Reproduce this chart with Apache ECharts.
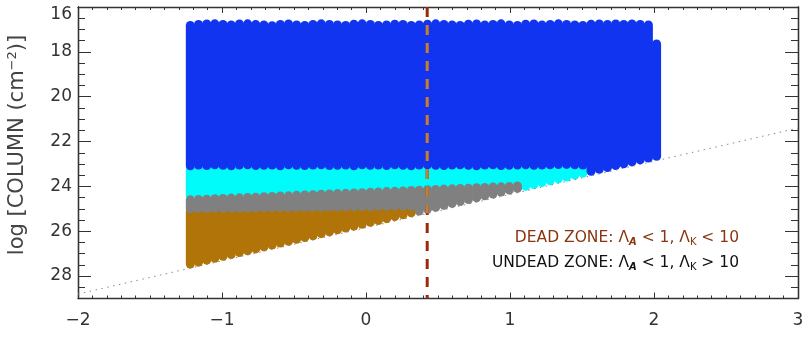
<!DOCTYPE html>
<html><head><meta charset="utf-8">
<script src="https://cdn.jsdelivr.net/npm/echarts@6/dist/echarts.min.js"></script>
<style>html,body{margin:0;padding:0;background:#fff}#c{width:806px;height:337px}</style>
</head><body><div id="c"></div>
<script>
// ---- data ----
// x positions (log radius) of the model columns
const colX = [-1.220,-1.163,-1.106,-1.050,-0.993,-0.936,-0.879,-0.822,-0.766,-0.709,
  -0.652,-0.595,-0.538,-0.482,-0.425,-0.368,-0.311,-0.254,-0.198,-0.141,
  -0.084,-0.027,0.030,0.086,0.143,0.200,0.257,0.314,0.370,0.427,
  0.484,0.541,0.598,0.654,0.711,0.768,0.825,0.882,0.938,0.995,
  1.052,1.109,1.166,1.222,1.279,1.336,1.393,1.450,1.506,1.563,
  1.620,1.677,1.734,1.790,1.847,1.904,1.961,2.018];
// top of each column (log column)
const colTop = [16.62,16.58,16.56,16.55,16.58,16.60,16.56,16.55,16.58,16.60,
  16.63,16.58,16.56,16.60,16.62,16.58,16.55,16.58,16.60,16.62,
  16.57,16.55,16.58,16.62,16.60,16.57,16.58,16.62,16.60,16.57,
  16.55,16.58,16.60,16.62,16.57,16.56,16.60,16.58,16.55,16.60,
  16.62,16.57,16.56,16.60,16.58,16.55,16.58,16.60,16.62,16.57,
  16.56,16.58,16.56,16.58,16.56,16.58,16.60,17.45];
// lower end of the blue (active) part
const blueBottom = [23.28,23.25,23.27,23.24,23.26,23.28,23.25,23.24,23.27,23.26,
  23.25,23.28,23.24,23.26,23.27,23.25,23.24,23.27,23.26,23.25,
  23.28,23.24,23.26,23.25,23.27,23.24,23.26,23.28,23.25,23.24,
  23.26,23.27,23.25,23.24,23.26,23.28,23.25,23.24,23.27,23.26,
  23.25,23.24,23.26,23.25,23.24,23.23,23.22,23.24,23.25,23.53,
  23.44,23.36,23.27,23.19,23.11,23.02,22.94,22.86];
// lower end of the cyan part
const cyanBottom = [24.40,24.38,24.37,24.35,24.34,24.32,24.31,24.29,24.28,24.26,
  24.25,24.23,24.22,24.20,24.18,24.17,24.15,24.14,24.12,24.11,
  24.09,24.08,24.06,24.05,24.03,24.02,24.00,23.98,23.97,23.95,
  23.94,23.92,23.91,23.89,23.88,23.86,23.85,23.83,23.82,23.80,
  23.78,24.20,24.12,24.03,23.95,23.86,23.78,23.70,23.61,null,
  null,null,null,null,null,null,null,null];
// lower end of the grey (undead zone) part
const grayBottom = [25.20,25.19,25.19,25.18,25.18,25.18,25.17,25.17,25.16,25.16,
  25.15,25.15,25.14,25.14,25.13,25.13,25.13,25.12,25.12,25.11,
  25.11,25.10,25.10,25.09,25.09,25.08,25.08,25.08,25.30,25.21,
  25.13,25.05,24.96,24.88,24.79,24.71,24.62,24.54,24.45,24.37,
  24.29,null,null,null,null,null,null,null,null,null,
  null,null,null,null,null,null,null,null];
// lower end of the brown (dead zone) part
const brownBottom = [27.66,27.58,27.49,27.41,27.32,27.24,27.15,27.07,26.99,26.90,
  26.82,26.73,26.65,26.56,26.48,26.40,26.31,26.23,26.14,26.06,
  25.97,25.89,25.80,25.72,25.64,25.55,25.47,25.38,null,null,
  null,null,null,null,null,null,null,null,null,null,
  null,null,null,null,null,null,null,null,null,null,
  null,null,null,null,null,null,null,null];
const limitLineX = [-2, 3];
const limitLineY = [28.8, 21.4];
const boundaryX = 0.425;
const boundaryY = [16, 29];
const boundaryOverData = [16.6, 25.2];
const yTickLabels = [16, 18, 20, 22, 24, 26, 28];

// ---- build ----
const blueData = [], cyanData = [], grayData = [], brownData = [];
for (let i = 0; i < colX.length; i++) {
  blueData.push([colX[i], colTop[i], blueBottom[i], 0, 0]);
  if (cyanBottom[i] != null) cyanData.push([colX[i], blueBottom[i], cyanBottom[i], 1, grayBottom[i] != null ? 1 : 0]);
  if (grayBottom[i] != null) grayData.push([colX[i], cyanBottom[i], grayBottom[i], 0, 0]);
  if (brownBottom[i] != null) brownData.push([colX[i], grayBottom[i], brownBottom[i], 1, 0]);
}
function render(color) {
  return function (params, api) {
    const x = api.value(0), a = api.value(1), b = api.value(2), et = api.value(3), eb = api.value(4);
    const p0 = api.coord([x, a]), p1 = api.coord([x, b]);
    const w = 9, ext = 6;
    const y0 = p0[1] - et * ext, y1 = p1[1] + eb * ext;
    return { type: 'rect', shape: { x: p0[0] - w / 2, y: y0, width: w, height: y1 - y0, r: w / 2 },
      style: { fill: color } };
  };
}
function col(name, data, color) {
  return { name, type: 'custom', data, renderItem: render(color), encode: { x: 0, y: [1, 2] },
    xAxisIndex: 0, yAxisIndex: 0, silent: true };
}
const FONT = 'DejaVu Sans';
const AX = '#333';
const minus = v => String(v).replace('-', '\u2212');
function xAx(pos, labels) {
  return { type: 'value', min: -2, max: 3, interval: 1, position: pos,
    axisLine: { show: true, onZero: false, lineStyle: { color: AX, width: 1.3 } },
    axisTick: { show: true, inside: true, length: 6, lineStyle: { color: AX } },
    minorTick: { show: true, splitNumber: 10, length: 3, lineStyle: { color: AX } },
    splitLine: { show: false }, minorSplitLine: { show: false },
    axisLabel: { show: labels, formatter: minus, color: AX, fontSize: 17, fontFamily: FONT, margin: 14 } };
}
function yAx(pos, interval, len, labels) {
  return { type: 'value', min: 16, max: 29, inverse: true, interval, position: pos,
    axisLine: { show: true, onZero: false, lineStyle: { color: AX, width: 1.3 } },
    axisTick: { show: true, inside: true, length: len, lineStyle: { color: AX } },
    splitLine: { show: false },
    axisLabel: { show: labels, color: AX, fontSize: 17, fontFamily: FONT, margin: 6,
      formatter: v => yTickLabels.indexOf(v) < 0 ? '' : (v === 16 ? '{t|16}' : String(v)),
      rich: { t: { padding: [15, 0, 0, 0], fontSize: 17, fontFamily: FONT, color: AX } } } };
}

const chart = echarts.init(document.getElementById('c'), null, { renderer: 'canvas' });
const lblRich = (c) => ({
  m: { fontSize: 15.5, fontFamily: FONT, fill: c, lineHeight: 19 },
  s: { fontSize: 10, fontFamily: FONT, fontStyle: 'italic', fontWeight: 'bold', fill: c, lineHeight: 10, verticalAlign: 'bottom' },
  k: { fontSize: 10, fontFamily: FONT, fill: c, lineHeight: 10, verticalAlign: 'bottom' }
});
chart.setOption({
  animation: false,
  backgroundColor: '#fff',
  grid: { left: 78, right: 8, top: 7, bottom: 38.5, outerBoundsMode: 'none', containLabel: false },
  xAxis: [xAx('bottom', true), xAx('top', false)],
  yAxis: [yAx('left', 0.5, 7, true), yAx('left', 2, 13, false), yAx('right', 0.5, 7, false), yAx('right', 2, 13, false)],
  series: [
    { type: 'line', data: limitLineX.map((x, i) => [x, limitLineY[i]]), symbol: 'none', silent: true,
      lineStyle: { color: '#888', width: 1, type: [1.5, 4.5] } },
    col('cyan', cyanData, '#00fbfb'),
    col('brown', brownData, '#b07408'),
    col('gray', grayData, '#808080'),
    col('blue', blueData, '#1034f0'),
    { type: 'line', data: boundaryY.map(y => [boundaryX, y]), symbol: 'none', silent: true,
      lineStyle: { color: '#9a2a0c', width: 3, type: [10, 8] } },
    { type: 'line', data: boundaryOverData.map(y => [boundaryX, y]), symbol: 'none', silent: true,
      lineStyle: { color: '#c0803a', width: 3, type: [10, 8], dashOffset: 13.4 } }
  ],
  graphic: [
    { type: 'text', x: 18, y: 145, rotation: Math.PI / 2, silent: true,
      style: { text: '{m|log [COLUMN (cm}{s|\u22122}{m|)]}', align: 'center', verticalAlign: 'middle',
        rich: { m: { fontSize: 21, fontFamily: FONT, fill: '#444', lineHeight: 23 },
                s: { fontSize: 13, fontFamily: FONT, fill: '#444', lineHeight: 13, verticalAlign: 'top' } } } },
    { type: 'text', x: 739, y: 238, silent: true,
      style: { text: '{m|DEAD ZONE: \u039b}{s|A}{m| < 1, \u039b}{k|K}{m| < 10}', align: 'right', verticalAlign: 'middle',
        rich: lblRich('#8a3412') } },
    { type: 'text', x: 739, y: 263, silent: true,
      style: { text: '{m|UNDEAD ZONE: \u039b}{s|A}{m| < 1, \u039b}{k|K}{m| > 10}', align: 'right', verticalAlign: 'middle',
        rich: lblRich('#111') } }
  ]
});
</script></body></html>
